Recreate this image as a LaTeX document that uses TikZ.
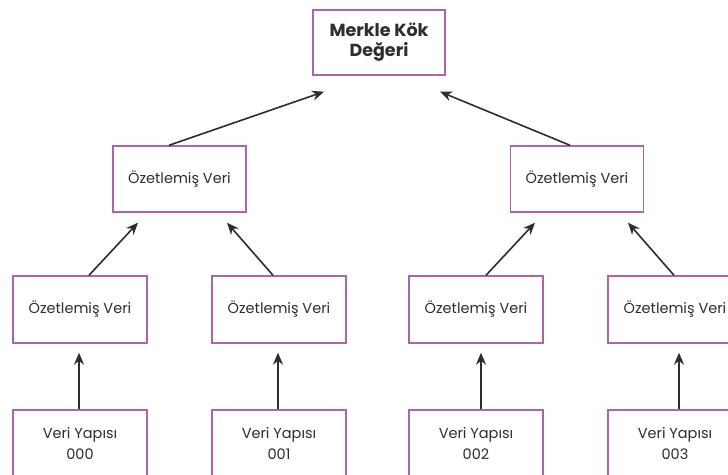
\documentclass[tikz,border=0pt]{standalone}
\usepackage{fontspec}
\setmainfont{Poppins}
\usetikzlibrary{arrows.meta}
\definecolor{boxline}{RGB}{172,100,172}
\definecolor{ink}{RGB}{45,45,48}
\begin{document}
\begin{tikzpicture}[x=1pt,y=-1pt,
  hashbox/.style={draw=boxline,line width=1.4pt,fill=white,inner sep=0pt,
    minimum width=134pt,minimum height=67pt,align=center,text=ink,
    font=\fontsize{14.5}{21}\selectfont},
  rootbox/.style={hashbox,minimum width=132pt,minimum height=65pt,
    font=\fontsize{17.5}{20}\selectfont\bfseries},
  link/.style={draw=ink,line width=1.6pt,-{Stealth[length=12pt,width=10pt]}}]
\useasboundingbox (0,0) rectangle (728,474);
\clip (0,0) rectangle (728,474);

% root of the tree
\node[rootbox] (root) at (379,42.5) {Merkle Kök\\Değeri};

% intermediate hashes
\node[hashbox,minimum width=133pt,minimum height=66pt] (m1) at (179.5,179) {Özetlemiş Veri};
\node[hashbox,minimum width=133pt,minimum height=66pt] (m2) at (577,179) {Özetlemiş Veri};

% leaf hashes
\node[hashbox] (h0) at (80,309.5) {Özetlemiş Veri};
\node[hashbox] (h1) at (279,309.5) {Özetlemiş Veri};
\node[hashbox] (h2) at (476,309.5) {Özetlemiş Veri};
\node[hashbox] (h3) at (675,309.5) {Özetlemiş Veri};

% data blocks
\node[hashbox] (d0) at (80,443.5) {Veri Yapısı\\000};
\node[hashbox] (d1) at (279,443.5) {Veri Yapısı\\001};
\node[hashbox] (d2) at (476,443.5) {Veri Yapısı\\002};
\node[hashbox] (d3) at (675,443.5) {Veri Yapısı\\003};

% data -> leaf hash
\draw[link] ([xshift=-1pt]d0.north) -- ([xshift=-1pt,yshift=-9pt]h0.south);
\draw[link] ([xshift=-1pt]d1.north) -- ([xshift=-1pt,yshift=-9pt]h1.south);
\draw[link] ([xshift=5pt]d2.north) -- ([xshift=5pt,yshift=-9pt]h2.south);
\draw[link] ([xshift=4pt]d3.north) -- ([xshift=4pt,yshift=-9pt]h3.south);

% leaf hash -> intermediate hash
\draw[link] ([xshift=9pt]h0.north) -- ([xshift=-41.5pt,yshift=-10pt]m1.south);
\draw[link] ([xshift=-6pt]h1.north) -- ([xshift=47.5pt,yshift=-10pt]m1.south);
\draw[link] ([xshift=10pt]h2.north) -- ([xshift=-42pt,yshift=-10pt]m2.south);
\draw[link] ([xshift=-1pt]h3.north) -- ([xshift=51pt,yshift=-10pt]m2.south);

% intermediate hash -> root
\draw[link] ([xshift=-10.5pt]m1.north) -- ([xshift=-55pt,yshift=-16pt]root.south);
\draw[link] ([xshift=-7pt]m2.north) -- ([xshift=61pt,yshift=-16pt]root.south);
\end{tikzpicture}
\end{document}
